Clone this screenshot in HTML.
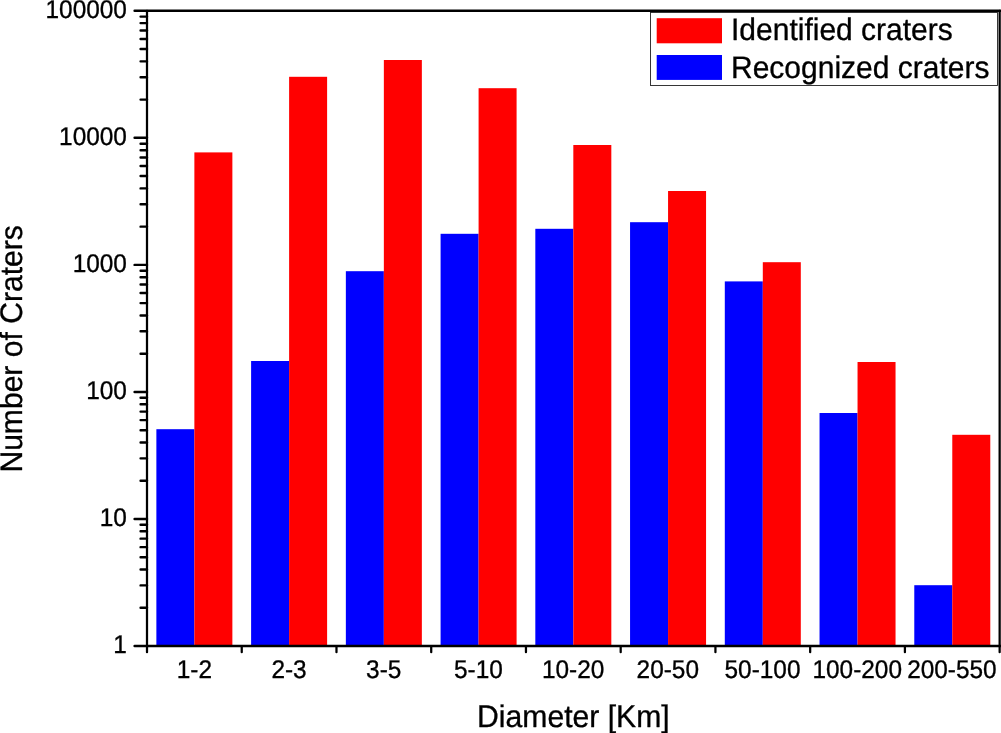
<!DOCTYPE html>
<html lang="en"><head><meta charset="utf-8"><title>Crater counts by diameter</title>
<style>html,body{margin:0;padding:0;background:#fff;overflow:hidden}svg{display:block}text{font-family:"Liberation Sans",Arial,Helvetica,sans-serif;fill:#000;stroke:#000;stroke-width:0.32px;stroke-linejoin:round;text-rendering:geometricPrecision}</style></head><body>
<svg width="1001" height="733" viewBox="0 0 1001 733">
<rect width="1001" height="733" fill="#fff"/>
<g>
<rect x="156.37" y="429.20" width="38.00" height="216.80" fill="#0000ff"/>
<rect x="194.37" y="152.40" width="38.00" height="493.60" fill="#ff0000"/>
<rect x="251.11" y="361.00" width="38.00" height="285.00" fill="#0000ff"/>
<rect x="289.11" y="76.80" width="38.00" height="569.20" fill="#ff0000"/>
<rect x="345.85" y="271.20" width="38.00" height="374.80" fill="#0000ff"/>
<rect x="383.85" y="60.00" width="38.00" height="586.00" fill="#ff0000"/>
<rect x="440.59" y="233.80" width="38.00" height="412.20" fill="#0000ff"/>
<rect x="478.59" y="88.20" width="38.00" height="557.80" fill="#ff0000"/>
<rect x="535.32" y="228.80" width="38.00" height="417.20" fill="#0000ff"/>
<rect x="573.32" y="145.00" width="38.00" height="501.00" fill="#ff0000"/>
<rect x="630.06" y="222.20" width="38.00" height="423.80" fill="#0000ff"/>
<rect x="668.06" y="191.00" width="38.00" height="455.00" fill="#ff0000"/>
<rect x="724.80" y="281.40" width="38.00" height="364.60" fill="#0000ff"/>
<rect x="762.80" y="262.20" width="38.00" height="383.80" fill="#ff0000"/>
<rect x="819.54" y="413.00" width="38.00" height="233.00" fill="#0000ff"/>
<rect x="857.54" y="362.00" width="38.00" height="284.00" fill="#ff0000"/>
<rect x="914.28" y="585.20" width="38.00" height="60.80" fill="#0000ff"/>
<rect x="952.28" y="434.80" width="38.00" height="211.20" fill="#ff0000"/>
</g>
<g stroke="#000" fill="none" stroke-linecap="round">
<path stroke-width="2.45" d="M134.60 10.8H1002.65 M134.60 646.0H1002.65"/>
<path stroke-width="2.25" d="M147.0 10.8V652.2 M999.65 10.8V652.2"/>
<path stroke-width="2.45" d="M140.60 607.76H147.0 M140.60 585.39H147.0 M140.60 569.51H147.0 M140.60 557.20H147.0 M140.60 547.14H147.0 M140.60 538.64H147.0 M140.60 531.27H147.0 M140.60 524.77H147.0 M134.60 518.96H147.0 M140.60 480.72H147.0 M140.60 458.35H147.0 M140.60 442.47H147.0 M140.60 430.16H147.0 M140.60 420.10H147.0 M140.60 411.60H147.0 M140.60 404.23H147.0 M140.60 397.73H147.0 M134.60 391.92H147.0 M140.60 353.68H147.0 M140.60 331.31H147.0 M140.60 315.43H147.0 M140.60 303.12H147.0 M140.60 293.06H147.0 M140.60 284.56H147.0 M140.60 277.19H147.0 M140.60 270.69H147.0 M134.60 264.88H147.0 M140.60 226.64H147.0 M140.60 204.27H147.0 M140.60 188.39H147.0 M140.60 176.08H147.0 M140.60 166.02H147.0 M140.60 157.52H147.0 M140.60 150.15H147.0 M140.60 143.65H147.0 M134.60 137.84H147.0 M140.60 99.60H147.0 M140.60 77.23H147.0 M140.60 61.35H147.0 M140.60 49.04H147.0 M140.60 38.98H147.0 M140.60 30.48H147.0 M140.60 23.11H147.0 M140.60 16.61H147.0"/>
<path stroke-width="2.25" d="M241.74 646.0V652.2 M336.48 646.0V652.2 M431.22 646.0V652.2 M525.96 646.0V652.2 M620.69 646.0V652.2 M715.43 646.0V652.2 M810.17 646.0V652.2 M904.91 646.0V652.2"/>
</g>
<text transform="translate(126.9 652.7) scale(1 1.05)" font-size="24.4" text-anchor="end">1</text>
<text transform="translate(126.9 525.66) scale(1 1.05)" font-size="24.4" text-anchor="end">10</text>
<text transform="translate(126.9 398.62) scale(1 1.05)" font-size="24.4" text-anchor="end">100</text>
<text transform="translate(126.9 271.58) scale(1 1.05)" font-size="24.4" text-anchor="end">1000</text>
<text transform="translate(126.9 144.54) scale(1 1.05)" font-size="24.4" text-anchor="end">10000</text>
<text transform="translate(126.9 17.5) scale(1 1.05)" font-size="24.4" text-anchor="end">100000</text>
<text transform="translate(194.32 678.35) scale(1 1.05)" font-size="24.4" text-anchor="middle">1-2</text>
<text transform="translate(289.02 678.35) scale(1 1.05)" font-size="24.4" text-anchor="middle">2-3</text>
<text transform="translate(383.72 678.35) scale(1 1.05)" font-size="24.4" text-anchor="middle">3-5</text>
<text transform="translate(478.42 678.35) scale(1 1.05)" font-size="24.4" text-anchor="middle">5-10</text>
<text transform="translate(573.12 678.35) scale(1 1.05)" font-size="24.4" text-anchor="middle">10-20</text>
<text transform="translate(667.81 678.35) scale(1 1.05)" font-size="24.4" text-anchor="middle">20-50</text>
<text transform="translate(762.51 678.35) scale(1 1.05)" font-size="24.4" text-anchor="middle">50-100</text>
<text transform="translate(857.21 678.35) scale(1 1.05)" font-size="24.4" text-anchor="middle">100-200</text>
<text transform="translate(951.91 678.35) scale(1 1.05)" font-size="24.4" text-anchor="middle">200-550</text>
<text transform="translate(573.4 727) scale(1 1.035)" font-size="30.15" text-anchor="middle">Diameter [Km]</text>
<text transform="translate(21.8 348.9) rotate(-90) scale(1 1.035)" font-size="30.08" text-anchor="middle">Number of Craters</text>
<rect x="650.5" y="12.5" width="347" height="73" fill="#fff" stroke="#222" stroke-width="0.9"/>
<rect x="656.7" y="18.2" width="65.3" height="25.1" fill="#ff0000"/>
<rect x="656.7" y="55" width="65.3" height="24.9" fill="#0000ff"/>
<text transform="translate(731.0 40.4) scale(1 1.035)" font-size="30.0" text-anchor="start">Identified craters</text>
<text transform="translate(731.0 77.7) scale(1 1.035)" font-size="30.0" text-anchor="start">Recognized craters</text>
</svg></body></html>
